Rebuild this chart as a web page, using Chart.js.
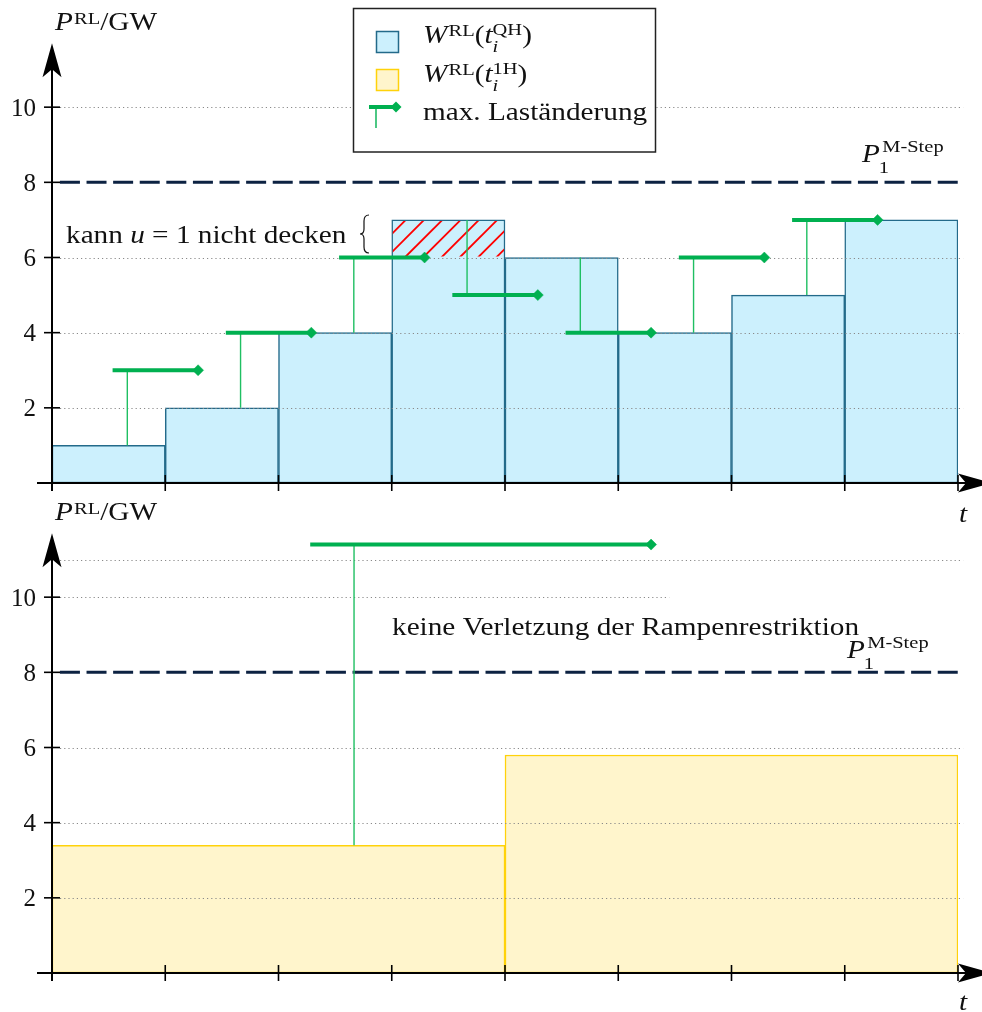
<!DOCTYPE html>
<html>
<head>
<meta charset="utf-8">
<script src="https://cdn.jsdelivr.net/npm/chart.js@4.4.0/dist/chart.umd.min.js"></script>
<style>
  body { margin: 0; background: #fff; }
  .panel { position: absolute; left: 0; width: 982px; }
</style>
</head>
<body>
<div class="panel" style="top:0;height:530px"><canvas id="topChart" width="982" height="530"></canvas></div>
<div class="panel" style="top:490px;height:522px"><canvas id="bottomChart" width="982" height="522"></canvas></div>
<script>
// quarter-hour residual load (top panel)
const qhSlots = ['1', '2', '3', '4', '5', '6', '7', '8'];
const qhLevels = [1, 2, 4, 7, 6, 4, 5, 7];
// max. load change markers (top panel)
const qhRampLevels = [3, 4, 6, 5, 4, 6, 7];
const qhRampBase = [1, 2, 4, 7, 6, 4, 5];
const qhRampFrom = [0.535, 1.535, 2.535, 3.535, 4.535, 5.535, 6.535];
const qhRampStem = [0.665, 1.665, 2.665, 3.665, 4.665, 5.665, 6.665];
const qhRampTo = [1.29, 2.29, 3.29, 4.29, 5.29, 6.29, 7.29];
// part that u = 1 cannot cover (slot index, from, to)
const uncoveredSlot = 3;
const uncoveredRange = [6, 7];

// hourly residual load (bottom panel)
const hourSlots = ['1', '2'];
const hourLevels = [3.4, 5.8];
const hourRampLevels = [11.4];
const hourRampBase = [3.4];
const hourRampFrom = [2.28];
const hourRampStem = [2.667];
const hourRampTo = [5.29];

const yTicks = [2, 4, 6, 8, 10];
const stepLimit = 8;   // P1 M-Step

const SERIF = '"Liberation Serif", "DejaVu Serif", serif';
const FS = 25;
const SX = 1.17;
const GREEN = '#00b050';

function drawRuns(ctx, x, y, runs, size, sx) {
    ctx.save();
    ctx.translate(x, y);
    ctx.scale(sx, 1);
    ctx.fillStyle = '#111';
    ctx.textBaseline = 'alphabetic';
    ctx.textAlign = 'left';
    let mark = 0, end = 0;
    for (const r of runs) {
        const fs = r.small ? size * 0.7 : size;
        ctx.font = (r.it ? 'italic ' : '') + fs + 'px ' + SERIF;
        const w = ctx.measureText(r.t).width;
        let start;
        if (r.back) {
            start = mark + (r.k || 0);
        } else {
            mark = end;
            start = end + (r.k || 0);
        }
        ctx.fillText(r.t, start, (r.dy || 0) * size);
        end = r.back ? Math.max(end, start + w) : start + w;
    }
    ctx.restore();
}

const titleRuns = [{ t: 'P', it: 1 }, { t: 'RL', small: 1, dy: -0.24, k: 1 }, { t: '/GW' }];
const stepRuns = [{ t: 'P', it: 1 }, { t: '1', small: 1, dy: 0.42, k: -1 }, { t: 'M-Step', small: 1, dy: -0.42, back: 1, k: 2 }];
const tRuns = [{ t: 't', it: 1 }];
const legRunsQH = [{ t: 'W', it: 1 }, { t: 'RL', small: 1, dy: -0.28, k: 1 }, { t: '(' }, { t: 't', it: 1 },
    { t: 'i', it: 1, small: 1, dy: 0.36 }, { t: 'QH', small: 1, dy: -0.33, back: 1 }, { t: ')' }];
const legRuns1H = [{ t: 'W', it: 1 }, { t: 'RL', small: 1, dy: -0.28, k: 1 }, { t: '(' }, { t: 't', it: 1 },
    { t: 'i', it: 1, small: 1, dy: 0.36 }, { t: '1H', small: 1, dy: -0.33, back: 1 }, { t: ')' }];
const legRunsRamp = [{ t: 'max. Laständerung' }];
const noteTopRuns = [{ t: 'kann ' }, { t: 'u', it: 1 }, { t: ' = 1 nicht decken' }];
const noteBottomRuns = [{ t: 'keine Verletzung der Rampenrestriktion' }];

function rampSegments(from, to, level) {
    const pts = [];
    level.forEach((v, i) => {
        pts.push({ x: from[i], y: v }, { x: to[i], y: v }, { x: to[i], y: null });
    });
    return pts;
}

function rampStems(stem, base, level) {
    const pts = [];
    level.forEach((v, i) => {
        pts.push({ x: stem[i], y: base[i] }, { x: stem[i], y: v }, { x: stem[i], y: null });
    });
    return pts;
}

function arrow(ctx, x, y, dx, dy) {
    // stealth arrow head, tip at (x,y), pointing along (dx,dy)
    const len = 34, half = 9.5, notch = 8;
    const px = -dy, py = dx;
    ctx.beginPath();
    ctx.moveTo(x, y);
    ctx.lineTo(x - dx * len + px * half, y - dy * len + py * half);
    ctx.lineTo(x - dx * (len - notch), y - dy * (len - notch));
    ctx.lineTo(x - dx * len - px * half, y - dy * len - py * half);
    ctx.closePath();
    ctx.fill();
}

function drawGrid(chart, opts) {
    const ctx = chart.ctx, xs = chart.scales.x2, ys = chart.scales.y;
    const left = xs.getPixelForValue(0) + 8;
    ctx.save();
    ctx.strokeStyle = '#8a8a8a';
    ctx.lineWidth = 1;
    ctx.setLineDash([1.2, 3]);
    opts.grid.forEach(g => {
        const y = Math.round(ys.getPixelForValue(g.v)) + 0.5;
        ctx.beginPath();
        ctx.moveTo(left, y);
        ctx.lineTo(xs.getPixelForValue(g.to), y);
        ctx.stroke();
    });
    ctx.restore();
}

function drawHatch(chart) {
    const ctx = chart.ctx, xs = chart.scales.x2, ys = chart.scales.y;
    const x1 = xs.getPixelForValue(uncoveredSlot), x2 = xs.getPixelForValue(uncoveredSlot + 1);
    const yTop = ys.getPixelForValue(uncoveredRange[1]), yBot = ys.getPixelForValue(uncoveredRange[0]);
    ctx.save();
    ctx.beginPath();
    ctx.rect(x1 + 1, yTop + 1, x2 - x1 - 2, yBot - yTop - 2);
    ctx.clip();
    ctx.strokeStyle = '#ff0000';
    ctx.lineWidth = 1.8;
    const h = yBot - yTop;
    for (let xt = x1 + 14 - 18.3 * 3; xt < x2 + h; xt += 18.3) {
        ctx.beginPath();
        ctx.moveTo(xt, yTop);
        ctx.lineTo(xt - h, yBot);
        ctx.stroke();
    }
    ctx.restore();
}

function drawAxes(chart) {
    const ctx = chart.ctx, xs = chart.scales.x2, ys = chart.scales.y;
    const x0 = xs.getPixelForValue(0), y0 = ys.getPixelForValue(0);
    ctx.save();
    ctx.strokeStyle = '#000';
    ctx.fillStyle = '#000';
    ctx.lineWidth = 2;
    // x axis
    const xTip = xs.getPixelForValue(8.3);
    ctx.beginPath();
    ctx.moveTo(x0 - 15, y0);
    ctx.lineTo(xTip - 20, y0);
    ctx.stroke();
    arrow(ctx, xTip, y0, 1, 0);
    // y axis
    const yTip = ys.getPixelForValue(11.7);
    ctx.beginPath();
    ctx.moveTo(x0, y0 + 8);
    ctx.lineTo(x0, yTip + 20);
    ctx.stroke();
    arrow(ctx, x0, yTip, 0, -1);
    // ticks
    ctx.lineWidth = 1.6;
    for (let i = 0; i <= 8; i++) {
        const x = xs.getPixelForValue(i);
        ctx.beginPath();
        ctx.moveTo(x, y0 - 8);
        ctx.lineTo(x, y0 + 8);
        ctx.stroke();
    }
    ctx.font = FS + 'px ' + SERIF;
    ctx.textAlign = 'right';
    ctx.textBaseline = 'alphabetic';
    ctx.fillStyle = '#111';
    yTicks.forEach(v => {
        const y = ys.getPixelForValue(v);
        ctx.beginPath();
        ctx.moveTo(x0 - 8, y);
        ctx.lineTo(x0 + 8, y);
        ctx.stroke();
        ctx.fillText(String(v), x0 - 16, y + 8.5);
    });
    ctx.restore();
}

function drawBrace(ctx, x, yTop, yBot) {
    const yMid = (yTop + yBot) / 2;
    ctx.save();
    ctx.strokeStyle = '#111';
    ctx.lineWidth = 1.2;
    ctx.beginPath();
    ctx.moveTo(x, yTop);
    ctx.quadraticCurveTo(x - 5, yTop, x - 5, yTop + 6);
    ctx.lineTo(x - 5, yMid - 5);
    ctx.quadraticCurveTo(x - 5, yMid, x - 9, yMid);
    ctx.quadraticCurveTo(x - 5, yMid, x - 5, yMid + 5);
    ctx.lineTo(x - 5, yBot - 6);
    ctx.quadraticCurveTo(x - 5, yBot, x, yBot);
    ctx.stroke();
    ctx.restore();
}

function drawLegend(ctx) {
    ctx.save();
    ctx.fillStyle = '#fff';
    ctx.fillRect(353.5, 8.5, 302, 143.5);
    ctx.strokeStyle = '#222';
    ctx.lineWidth = 1.5;
    ctx.strokeRect(353.5, 8.5, 302, 143.5);
    ctx.fillStyle = '#ccf0fd';
    ctx.strokeStyle = '#236a8a';
    ctx.fillRect(376.5, 31.5, 22, 21);
    ctx.strokeRect(376.5, 31.5, 22, 21);
    ctx.fillStyle = '#fff5cc';
    ctx.strokeStyle = '#ffd20a';
    ctx.fillRect(376.5, 69.5, 22, 21);
    ctx.strokeRect(376.5, 69.5, 22, 21);
    ctx.strokeStyle = GREEN;
    ctx.fillStyle = GREEN;
    ctx.lineWidth = 1.4;
    ctx.beginPath();
    ctx.moveTo(376, 107);
    ctx.lineTo(376, 128);
    ctx.stroke();
    ctx.lineWidth = 4;
    ctx.beginPath();
    ctx.moveTo(369, 107);
    ctx.lineTo(396, 107);
    ctx.stroke();
    ctx.beginPath();
    ctx.moveTo(396, 101.5);
    ctx.lineTo(401.5, 107);
    ctx.lineTo(396, 112.5);
    ctx.lineTo(390.5, 107);
    ctx.closePath();
    ctx.fill();
    ctx.restore();
    drawRuns(ctx, 423, 43, legRunsQH, FS, SX);
    drawRuns(ctx, 423, 82, legRuns1H, FS, SX);
    drawRuns(ctx, 423, 120, legRunsRamp, FS, SX);
}

function panelPlugin(opts) {
    return {
        id: 'panel',
        afterDatasetDraw(chart, args) {
            if (args.index !== 0) return;
            drawGrid(chart, opts);
            if (opts.hatch) drawHatch(chart);
        },
        afterDraw(chart) {
            const ctx = chart.ctx;
            drawAxes(chart);
            drawRuns(ctx, 55, 30, titleRuns, FS, SX);
            drawRuns(ctx, opts.tPos[0], opts.tPos[1], tRuns, FS, SX);
            drawRuns(ctx, opts.stepPos[0], opts.stepPos[1], stepRuns, FS, SX);
            drawRuns(ctx, opts.notePos[0], opts.notePos[1], opts.note, FS, SX);
            if (opts.brace) drawBrace(ctx, opts.brace[0], opts.brace[1], opts.brace[2]);
            if (opts.legend) drawLegend(ctx);
        }
    };
}

function makeChart(id, slots, levels, fill, line, segs, stems, opts) {
    return new Chart(document.getElementById(id), {
        type: 'bar',
        data: {
            labels: slots,
            datasets: [
                {
                    data: levels,
                    xAxisID: 'x',
                    backgroundColor: fill,
                    borderColor: line,
                    borderWidth: 1.5,
                    borderSkipped: false,
                    barPercentage: 1,
                    categoryPercentage: 1,
                    grouped: false,
                    order: 10
                },
                {
                    type: 'line',
                    xAxisID: 'x2',
                    data: [{ x: 0.07, y: stepLimit }, { x: 8.045, y: stepLimit }],
                    borderColor: '#0c2242',
                    borderWidth: 3,
                    borderDash: [20, 6.6],
                    pointRadius: 0,
                    clip: false,
                    order: 3
                },
                {
                    type: 'line',
                    xAxisID: 'x2',
                    data: stems,
                    borderColor: '#1fbf62',
                    borderWidth: 1.4,
                    pointRadius: 0,
                    spanGaps: false,
                    order: 2
                },
                {
                    type: 'line',
                    xAxisID: 'x2',
                    data: segs,
                    borderColor: GREEN,
                    backgroundColor: GREEN,
                    borderWidth: 4,
                    pointStyle: 'rectRot',
                    pointRadius: c => (c.dataIndex % 3 === 1 ? 5.5 : 0),
                    pointBorderWidth: 0.5,
                    spanGaps: false,
                    order: 1
                }
            ]
        },
        options: {
            responsive: false,
            devicePixelRatio: 1,
            animation: false,
            layout: { padding: { left: 52, right: 24, top: 32, bottom: opts.padBottom } },
            plugins: { legend: { display: false }, tooltip: { enabled: false } },
            scales: {
                x: { type: 'category', offset: true, display: false },
                x2: { type: 'linear', min: 0, max: 8, offset: false, display: false },
                y: { type: 'linear', min: 0, max: 12, display: false }
            }
        },
        plugins: [panelPlugin(opts)]
    });
}

makeChart('topChart', qhSlots, qhLevels, '#ccf0fd', '#236a8a',
    rampSegments(qhRampFrom, qhRampTo, qhRampLevels),
    rampStems(qhRampStem, qhRampBase, qhRampLevels), {
        padBottom: 47,
        grid: [{ v: 2, to: 8.045 }, { v: 4, to: 8.045 }, { v: 6, to: 8.045 }, { v: 10, to: 8.045 }],
        hatch: true,
        tPos: [959, 522],
        stepPos: [862, 162],
        note: noteTopRuns,
        notePos: [66, 243],
        brace: [369, 215, 253],
        legend: true
    });

makeChart('bottomChart', hourSlots, hourLevels, '#fff5cc', '#ffd20a',
    rampSegments(hourRampFrom, hourRampTo, hourRampLevels),
    rampStems(hourRampStem, hourRampBase, hourRampLevels), {
        padBottom: 39,
        grid: [{ v: 2, to: 8.045 }, { v: 4, to: 8.045 }, { v: 6, to: 8.045 }, { v: 10, to: 5.45 }, { v: 11, to: 8.045 }],
        hatch: false,
        tPos: [959, 520],
        stepPos: [847, 168],
        note: noteBottomRuns,
        notePos: [392, 145],
        brace: null,
        legend: false
    });
</script>
</body>
</html>
